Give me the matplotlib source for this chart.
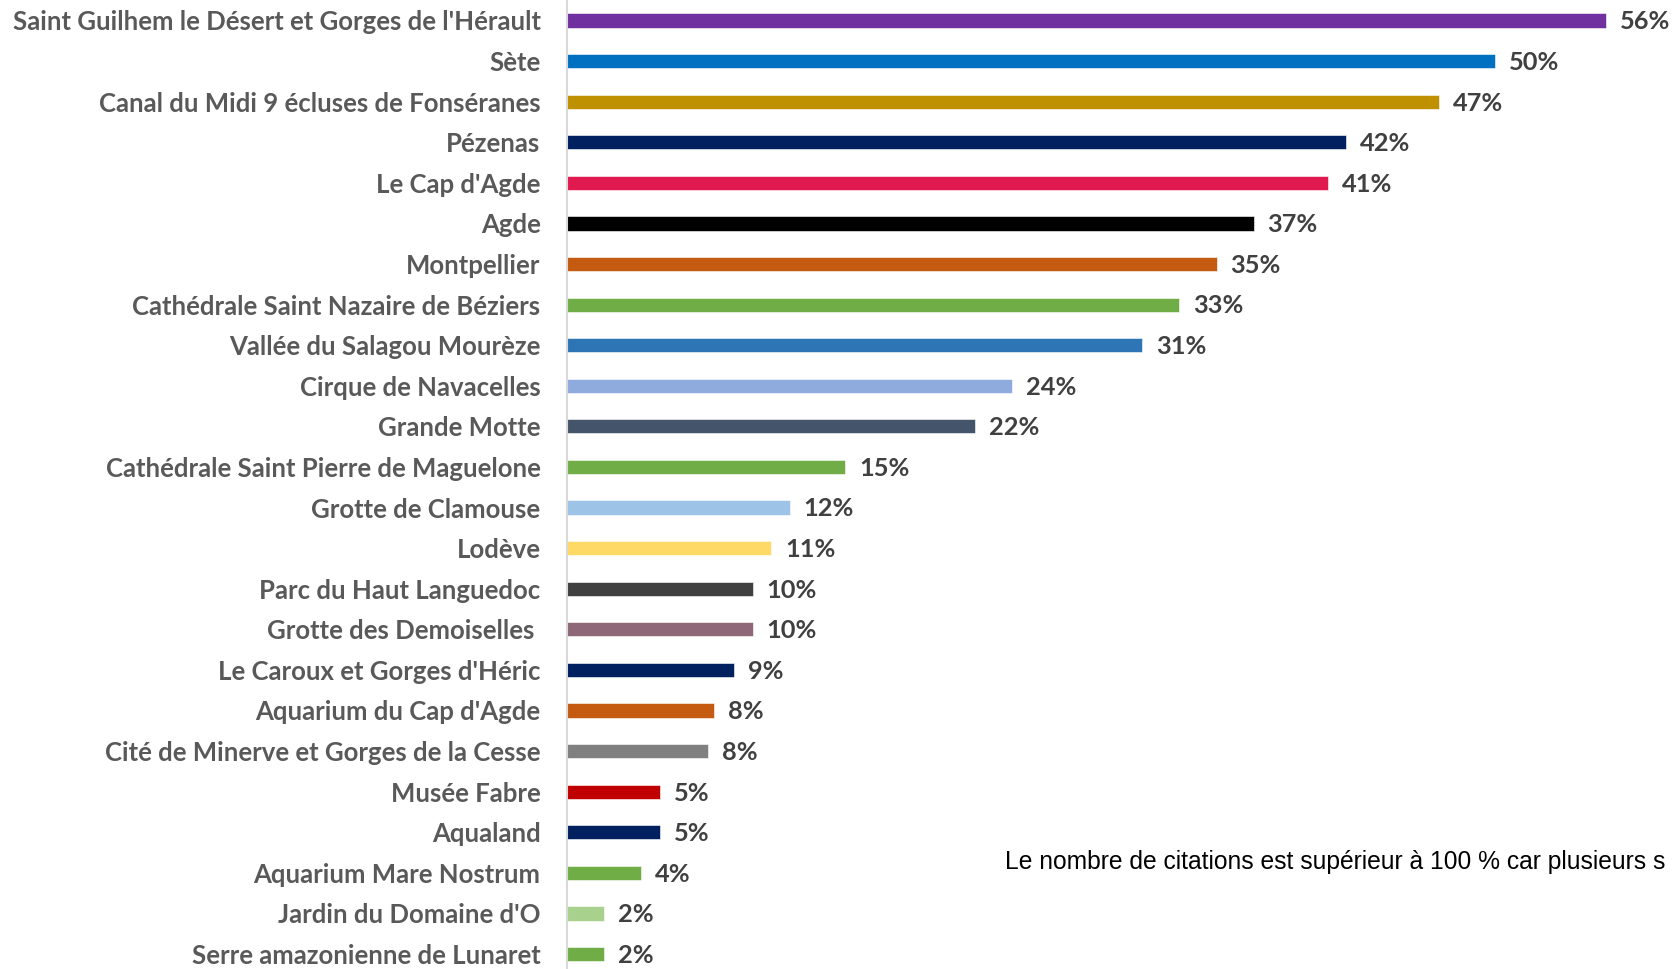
import matplotlib
matplotlib.use("Agg")
import matplotlib.pyplot as plt

categories = [
    "Saint Guilhem le Désert et Gorges de l'Hérault",
    "Sète",
    "Canal du Midi 9 écluses de Fonséranes",
    "Pézenas",
    "Le Cap d'Agde",
    "Agde",
    "Montpellier",
    "Cathédrale Saint Nazaire de Béziers",
    "Vallée du Salagou Mourèze",
    "Cirque de Navacelles",
    "Grande Motte",
    "Cathédrale Saint Pierre de Maguelone",
    "Grotte de Clamouse",
    "Lodève",
    "Parc du Haut Languedoc",
    "Grotte des Demoiselles ",
    "Le Caroux et Gorges d'Héric",
    "Aquarium du Cap d'Agde",
    "Cité de Minerve et Gorges de la Cesse",
    "Musée Fabre",
    "Aqualand",
    "Aquarium Mare Nostrum",
    "Jardin du Domaine d'O",
    "Serre amazonienne de Lunaret",
]
values = [56, 50, 47, 42, 41, 37, 35, 33, 31, 24, 22, 15, 12, 11, 10, 10, 9, 7.9, 7.6, 5, 5, 4, 2, 2]
labels = ["56%", "50%", "47%", "42%", "41%", "37%", "35%", "33%", "31%", "24%", "22%", "15%",
          "12%", "11%", "10%", "10%", "9%", "8%", "8%", "5%", "5%", "4%", "2%", "2%"]
colors = ["#7030A0", "#0070C0", "#BF9000", "#002060", "#E01A4F", "#000000", "#C55A11",
          "#70AD47", "#2E75B6", "#8FAADC", "#44546A", "#70AD47", "#9DC3E6", "#FFD966",
          "#404040", "#8E6878", "#002060", "#C55A11", "#808080", "#C00000", "#002060",
          "#70AD47", "#A9D18E", "#70AD47"]
note = "Le nombre de citations est supérieur à 100 % car plusieurs s"

W, H = 1675, 969
fig = plt.figure(figsize=(W / 100, H / 100), dpi=100)
left = 567 / W
top_px = 20.5 - 20.3
bot_px = 954 + 20.3
ax = fig.add_axes([left, (H - bot_px) / H, 1 - left, (bot_px - top_px) / H])

y = list(range(len(categories)))
ax.barh(y, values, height=0.35, color=colors, edgecolor="white", linewidth=0.4)
ax.set_xlim(0, 59.7)
ax.set_ylim(len(categories) - 0.5, -0.5)
ax.set_yticks(y)
ax.set_yticklabels(categories, fontsize=18.5, fontweight="bold", color="#595959", family="Lato")
ax.tick_params(axis="y", length=0, pad=19)
ax.set_xticks([])
for s in ["top", "right", "bottom"]:
    ax.spines[s].set_visible(False)
ax.spines["left"].set_color("#D9D9D9")
ax.spines["left"].set_linewidth(1.5)

for yi, v, lab in zip(y, values, labels):
    ax.annotate(lab, xy=(v, yi), xytext=(10, -1), textcoords="offset points",
                va="center", ha="left", fontsize=18.3, fontweight="bold",
                color="#404040", family="Lato")

fig.text(1005 / W, 1 - 862 / H, note, fontsize=17.7, color="#000000",
         family="Liberation Sans", va="center", ha="left")

fig.savefig("out.png", dpi=100)
